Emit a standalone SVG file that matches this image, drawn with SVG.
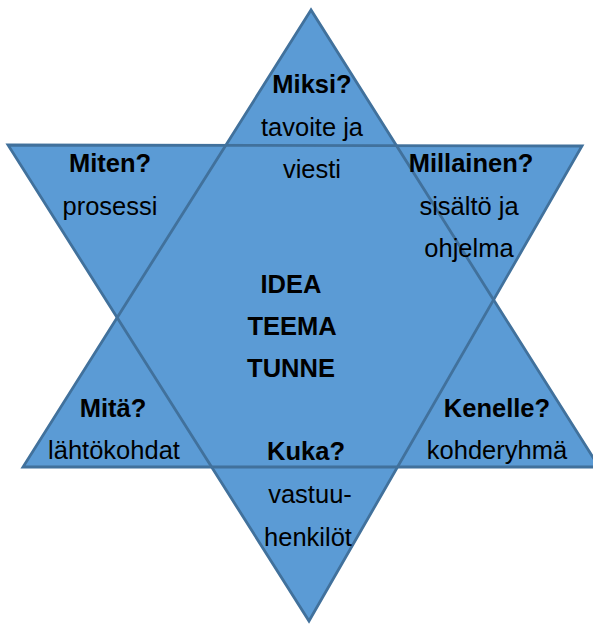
<svg xmlns="http://www.w3.org/2000/svg" width="593" height="624" viewBox="0 0 593 624">
<style>
.fill{fill:#5b9bd5;stroke:none}
.edge{fill:none;stroke:#41719c;stroke-width:2.8;stroke-linejoin:miter}
text{font-family:"Liberation Sans",Arial,sans-serif;font-size:25.5px;fill:#000;text-anchor:middle}
.b{font-weight:bold}
</style>
<rect width="593" height="624" fill="#fff"/>
<g id="star">
<polygon class="fill" points="8,145 582,146 309,621"/>
<polygon class="fill" points="311,10 23,467 599,467"/>
</g>
<g id="connectors">
<polygon class="edge" points="8,145 582,146 309,621"/>
<polygon class="edge" points="311,10 23,467 599,467"/>
</g>
<g id="n-miksi"><text class="b" x="312" y="93">Miksi?</text><text x="312" y="136">tavoite ja</text><text x="312" y="178">viesti</text></g>
<g id="n-miten"><text class="b" x="110" y="172">Miten?</text><text x="110" y="215">prosessi</text></g>
<g id="n-millainen"><text class="b" x="471" y="172">Millainen?</text><text x="469" y="215">sisältö ja</text><text x="469" y="257">ohjelma</text></g>
<g id="n-center"><text class="b" x="291" y="293">IDEA</text><text class="b" x="292" y="335">TEEMA</text><text class="b" x="291" y="377">TUNNE</text></g>
<g id="n-mita"><text class="b" x="113" y="417">Mitä?</text><text x="114" y="459">lähtökohdat</text></g>
<g id="n-kenelle"><text class="b" x="497" y="417">Kenelle?</text><text x="497" y="459">kohderyhmä</text></g>
<g id="n-kuka"><text class="b" x="306" y="460">Kuka?</text><text x="310" y="503">vastuu-</text><text x="308" y="546">henkilöt</text></g>
</svg>
